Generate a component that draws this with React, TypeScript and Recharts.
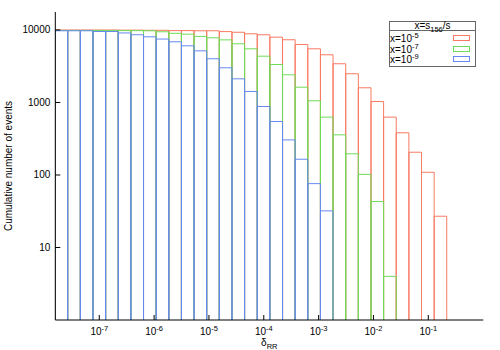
import { ComposedChart, Legend, Line, XAxis, YAxis } from "recharts";

// bin edges of delta_RR (log spaced, ~0.23 decade)
const binEdges = [
  1.563e-8, 2.655e-8, 4.516e-8, 7.674e-8, 1.306e-7, 2.218e-7, 3.77e-7, 6.41e-7,
  1.089e-6, 1.853e-6, 3.148e-6, 5.358e-6, 9.1e-6, 1.545e-5, 2.63e-5, 4.467e-5,
  7.6e-5, 1.291e-4, 2.198e-4, 3.733e-4, 6.34e-4, 1.079e-3, 1.832e-3, 3.119e-3,
  5.3e-3, 9.02e-3, 1.531e-2, 2.6e-2, 4.43e-2, 7.52e-2, 0.128, 0.217,
];

// cumulative counts per bin
const countsX5 = [
  10000, 10000, 10000, 10000, 10000, 9950, 9950, 9900, 9900, 9800, 9800, 9750, 9750,
  9500, 9300, 8860, 8590, 7960, 7330, 6310, 5500, 4550, 3420, 2490, 1595, 1030, 628,
  382, 206, 109, 27,
];
const countsX7 = [
  9850, 9850, 9850, 9850, 9800, 9800, 9800, 9750, 9450, 9000, 8750, 8150, 7800, 7300,
  6450, 5500, 4350, 3340, 2410, 1625, 1055, 628, 358, 196, 102, 43, 4,
];
const countsX9 = [
  9750, 9750, 9750, 9530, 9530, 9100, 8590, 8050, 7500, 6870, 6050, 5160, 4010, 3010,
  2120, 1420, 880, 547, 305, 165, 76, 32,
];

const seriesExps = ["-5", "-7", "-9"];
const seriesColors = ["#f87a62", "#6edc58", "#6688f2"];

const xTicks = [1e-7, 1e-6, 1e-5, 1e-4, 1e-3, 1e-2, 1e-1];
const xTickExps = ["-7", "-6", "-5", "-4", "-3", "-2", "-1"];
const yTicks = [10, 100, 1000, 10000];
const yTickLabels = ["10", "100", "1000", "10000"];

const xDomain = [1.578e-8, 1.007];
const yDomain = [1, 17700];

const font = "'Liberation Sans', Arial, Helvetica, sans-serif";

function boxOutline(counts: number[]) {
  const pts = [{ x: binEdges[0], y: 1 }];
  counts.forEach((c, i) => {
    pts.push({ x: binEdges[i], y: c }, { x: binEdges[i + 1], y: c }, { x: binEdges[i + 1], y: 1 });
  });
  return pts;
}

const seriesData = [boxOutline(countsX5), boxOutline(countsX7), boxOutline(countsX9)];

const BottomTick = (props: any) => {
  const { x, y, index } = props;
  return (
    <g>
      <line x1={x} y1={y} x2={x} y2={y - 5} stroke="#000" />
      <text x={x} y={y + 15} textAnchor="middle" fontSize={10} fontFamily={font} fill="#000">
        10<tspan dy={-4.5} fontSize={7.5}>{xTickExps[index]}</tspan>
      </text>
    </g>
  );
};

const TopTick = (props: any) => {
  const { x, y } = props;
  return <line x1={x} y1={y} x2={x} y2={y + 5} stroke="#000" />;
};

const LeftTick = (props: any) => {
  const { x, y, index } = props;
  return (
    <g>
      <line x1={x} y1={y} x2={x + 5} y2={y} stroke="#000" />
      <text x={x - 5} y={y + 3.5} textAnchor="end" fontSize={10} fontFamily={font} fill="#000">
        {yTickLabels[index]}
      </text>
    </g>
  );
};

const RightTick = (props: any) => {
  const { x, y } = props;
  return <line x1={x} y1={y} x2={x - 5} y2={y} stroke="#000" />;
};

const YLabel = (props: any) => {
  const { viewBox } = props;
  const cx = viewBox.x + 4;
  const cy = viewBox.y + viewBox.height / 2;
  return (
    <text x={cx} y={cy} transform={`rotate(-90 ${cx} ${cy})`} textAnchor="middle" fontSize={10} fontFamily={font} fill="#000">
      Cumulative number of events
    </text>
  );
};

const XLabel = (props: any) => {
  const { viewBox } = props;
  const cx = viewBox.x + viewBox.width / 2;
  return (
    <text x={cx} y={viewBox.y + 26} textAnchor="middle" fontSize={10} fontFamily={font} fill="#000">
      δ<tspan dy={3} fontSize={7.5}>RR</tspan>
    </text>
  );
};

const LegendBox = (props: any) => {
  const payload = props.payload || [];
  return (
    <div
      style={{
        position: "relative",
        width: 85,
        height: 44,
        border: "1px solid #666",
        fontFamily: font,
        fontSize: 10,
        color: "#000",
        background: "#fff",
        lineHeight: 1,
      }}
    >
      <div style={{ position: "absolute", left: 0, top: 0, width: 85, height: 8, borderBottom: "1px solid #666", textAlign: "center" }}>
        <span style={{ position: "relative", top: -1 }}>
          x=s<span style={{ fontSize: 7.5, position: "relative", top: 3 }}>156</span>/s
        </span>
      </div>
      {payload.map((entry: any, i: number) => (
        <div key={i} style={{ position: "absolute", left: 0, top: 12 + i * 10.5, width: 85, height: 10 }}>
          <span>
            x=10<span style={{ fontSize: 7.5, position: "relative", top: -4 }}>{seriesExps[i]}</span>
          </span>
          <span
            style={{
              position: "absolute",
              left: 63,
              top: 1,
              width: 15,
              height: 4,
              border: `1px solid ${entry.color}`,
            }}
          />
        </div>
      ))}
    </div>
  );
};

export default function App() {
  return (
    <div style={{ position: "absolute", left: 0, top: 0, width: 500, height: 350, background: "#fff" }}>
      <ComposedChart width={500} height={350} margin={{ top: 12, right: 16.7, bottom: 0, left: 8 }}>
        <XAxis
          dataKey="x"
          type="number"
          scale="log"
          domain={xDomain}
          allowDataOverflow
          ticks={xTicks}
          interval={0}
          height={30}
          tickSize={0}
          tickMargin={0}
          tickLine={false}
          tick={<BottomTick />}
          axisLine={{ stroke: "#000" }}
          label={<XLabel />}
        />
        <XAxis
          xAxisId="top"
          orientation="top"
          type="number"
          scale="log"
          domain={xDomain}
          allowDataOverflow
          ticks={xTicks}
          interval={0}
          height={0}
          tickSize={0}
          tickMargin={0}
          tickLine={false}
          tick={<TopTick />}
          axisLine={{ stroke: "#000" }}
        />
        <YAxis
          type="number"
          scale="log"
          domain={yDomain}
          allowDataOverflow
          ticks={yTicks}
          interval={0}
          width={47.3}
          tickSize={0}
          tickMargin={0}
          tickLine={false}
          tick={<LeftTick />}
          axisLine={{ stroke: "#000" }}
          label={<YLabel />}
        />
        <YAxis
          yAxisId="right"
          orientation="right"
          type="number"
          scale="log"
          domain={yDomain}
          allowDataOverflow
          ticks={yTicks}
          interval={0}
          width={0}
          tickSize={0}
          tickMargin={0}
          tickLine={false}
          tick={<RightTick />}
          axisLine={{ stroke: "#000" }}
        />
        {seriesData.map((pts, i) => (
          <Line
            key={i}
            data={pts}
            dataKey="y"
            name={`x=10${seriesExps[i]}`}
            type="linear"
            stroke={seriesColors[i]}
            strokeWidth={1}
            dot={false}
            activeDot={false}
            isAnimationActive={false}
          />
        ))}
        <Legend
          layout="horizontal"
          verticalAlign="middle"
          align="center"
          content={<LegendBox />}
          wrapperStyle={{ left: 389, top: 21, width: 87, height: 46 }}
        />
      </ComposedChart>
    </div>
  );
}
